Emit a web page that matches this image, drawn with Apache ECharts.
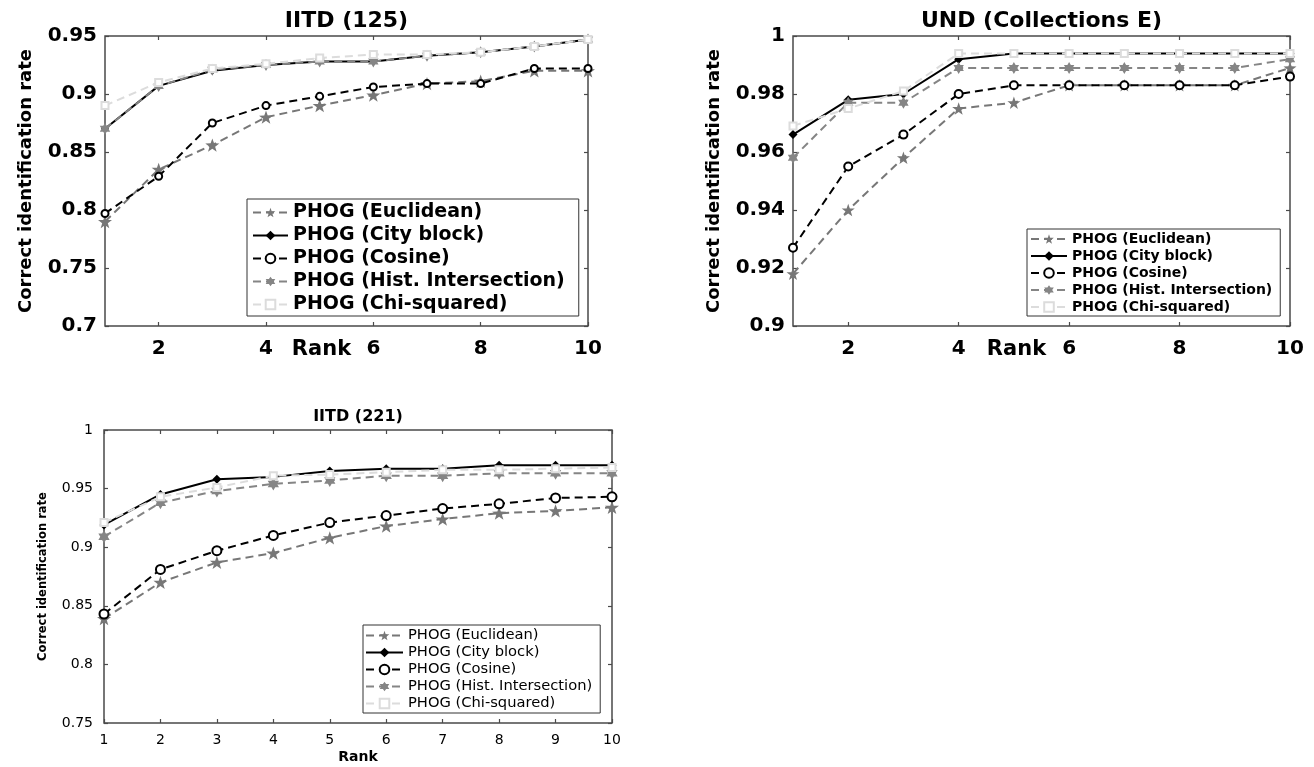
<!DOCTYPE html>
<html>
<head>
<meta charset="utf-8">
<script src="https://cdn.jsdelivr.net/npm/echarts@6/dist/echarts.min.js"></script>
<style>
html,body{margin:0;padding:0;background:#fff;}
#chart{width:1314px;height:767px;}
</style>
</head>
<body>
<div id="chart"></div>
<script>
// ---------- data ----------
const ranks = [1, 2, 3, 4, 5, 6, 7, 8, 9, 10];
const seriesNames = ['PHOG (Euclidean)', 'PHOG (City block)', 'PHOG (Cosine)', 'PHOG (Hist. Intersection)', 'PHOG (Chi-squared)'];
const chartTitles = ['IITD (125)', 'UND (Collections E)', 'IITD (221)'];
const xAxisName = 'Rank';
const yAxisName = 'Correct identification rate';
const topXTicks = [2, 4, 6, 8, 10];

// IITD (125)
const iitd125Euclidean = [0.790, 0.835, 0.856, 0.880, 0.890, 0.899, 0.909, 0.911, 0.920, 0.920];
const iitd125CityBlock = [0.870, 0.907, 0.920, 0.925, 0.928, 0.928, 0.933, 0.936, 0.941, 0.947];
const iitd125Cosine    = [0.797, 0.829, 0.875, 0.890, 0.898, 0.906, 0.909, 0.909, 0.922, 0.922];
const iitd125Hist      = [0.870, 0.907, 0.921, 0.925, 0.928, 0.928, 0.933, 0.936, 0.941, 0.947];
const iitd125Chi       = [0.890, 0.910, 0.922, 0.926, 0.931, 0.934, 0.934, 0.936, 0.941, 0.947];

// UND (Collections E)
const undEuclidean = [0.918, 0.940, 0.958, 0.975, 0.977, 0.983, 0.983, 0.983, 0.983, 0.989];
const undCityBlock = [0.966, 0.978, 0.980, 0.992, 0.994, 0.994, 0.994, 0.994, 0.994, 0.994];
const undCosine    = [0.927, 0.955, 0.966, 0.980, 0.983, 0.983, 0.983, 0.983, 0.983, 0.986];
const undHist      = [0.958, 0.977, 0.977, 0.989, 0.989, 0.989, 0.989, 0.989, 0.989, 0.992];
const undChi       = [0.969, 0.975, 0.981, 0.994, 0.994, 0.994, 0.994, 0.994, 0.994, 0.994];

// IITD (221)
const iitd221Euclidean = [0.839, 0.870, 0.887, 0.895, 0.908, 0.918, 0.924, 0.929, 0.931, 0.934];
const iitd221CityBlock = [0.919, 0.945, 0.958, 0.960, 0.965, 0.967, 0.967, 0.970, 0.970, 0.970];
const iitd221Cosine    = [0.843, 0.881, 0.897, 0.910, 0.921, 0.927, 0.933, 0.937, 0.942, 0.943];
const iitd221Hist      = [0.909, 0.938, 0.948, 0.954, 0.957, 0.961, 0.961, 0.963, 0.963, 0.963];
const iitd221Chi       = [0.921, 0.943, 0.951, 0.961, 0.962, 0.964, 0.966, 0.966, 0.967, 0.968];

// ---------- styling ----------
const STAR = 'path://M50,0L61.76,33.82L97.55,34.55L69.02,56.18L79.39,90.45L50,70L20.61,90.45L30.98,56.18L2.45,34.55L38.24,33.82Z';
const HEX = 'path://M50,0L64.43,25L93.3,25L78.87,50L93.3,75L64.43,75L50,100L35.57,75L6.7,75L21.13,50L6.7,25L35.57,25Z';
const FONT = 'DejaVu Sans';
const FRAME = '#4a4a4a';

const panels = [
  {
    grid: {left: 105, top: 36, width: 483, height: 290},
    y: {min: 0.7, max: 0.95, interval: 0.05},
    data: [iitd125Euclidean, iitd125CityBlock, iitd125Cosine, iitd125Hist, iitd125Chi],
    big: true,
    tickFont: 20, titleFont: 22, nameFont: 18, rankFont: 21,
    legend: {left: 247, top: 199, font: 19, lineHeight: 18, itemGap: 4, itemWidth: 35, padding: [4, 14, 2, 5]},
    sym: {star: 14, diamond: 8, circle: 7, hex: 12, rect: 7},
    lw: 2
  },
  {
    grid: {left: 793, top: 36, width: 497, height: 290},
    y: {min: 0.9, max: 1.0, interval: 0.02},
    data: [undEuclidean, undCityBlock, undCosine, undHist, undChi],
    big: true,
    tickFont: 20, titleFont: 22, nameFont: 18, rankFont: 21,
    legend: {left: 1027, top: 229, font: 14, lineHeight: 13, itemGap: 3, itemWidth: 36, padding: [3, 8, 2, 3]},
    sym: {star: 13, diamond: 9, circle: 8, hex: 12, rect: 7},
    lw: 2
  },
  {
    grid: {left: 104, top: 430, width: 508, height: 293},
    y: {min: 0.75, max: 1.0, interval: 0.05},
    data: [iitd221Euclidean, iitd221CityBlock, iitd221Cosine, iitd221Hist, iitd221Chi],
    big: false,
    tickFont: 14, titleFont: 16, nameFont: 11.5, rankFont: 14,
    legend: {left: 363, top: 625, font: 14.7, lineHeight: 14, itemGap: 2, itemWidth: 37, padding: [3, 8, 2, 2]},
    sym: {star: 14, diamond: 9, circle: 9, hex: 13, rect: 7},
    lw: 2
  }
];

const seriesStyles = [
  {color: '#777777', dash: [8, 5], symbol: STAR, symKey: 'star'},
  {color: '#000000', dash: 'solid', symbol: 'diamond', symKey: 'diamond'},
  {color: '#000000', dash: [8, 5], symbol: 'emptyCircle', symKey: 'circle'},
  {color: '#858585', dash: [8, 5], symbol: HEX, symKey: 'hex'},
  {color: '#dcdcdc', dash: [8, 5], symbol: 'emptyRect', symKey: 'rect'}
];

const grids = [], xAxes = [], yAxes = [], series = [], titles = [], legends = [];

panels.forEach((p, i) => {
  grids.push(Object.assign({show: true, borderColor: FRAME, borderWidth: 1.5, backgroundColor: 'transparent'}, p.grid));
  const cx = p.grid.left + p.grid.width / 2;
  const textBold = {fontFamily: FONT, fontWeight: 'bold', color: '#000'};
  const tickText = {fontFamily: FONT, fontWeight: p.big ? 'bold' : 'normal', color: '#000', fontSize: p.tickFont};

  titles.push({
    text: chartTitles[i], left: cx, top: p.big ? 10 : p.grid.top - 21, textAlign: 'center', padding: 0,
    textStyle: Object.assign({fontSize: p.titleFont}, textBold)
  });

  const xBottom = {
    type: 'value', gridIndex: i, min: 1, max: 10, position: 'bottom',
    name: xAxisName, nameLocation: 'middle', nameMoveOverlap: false,
    nameGap: p.big ? 13 : 27,
    nameTextStyle: Object.assign({fontSize: p.rankFont, padding: p.big ? [0, 50, 0, 0] : 0}, textBold),
    axisLine: {show: false},
    splitLine: {show: false},
    axisTick: {inside: true, length: 4, lineStyle: {color: FRAME, width: 1.2}},
    axisLabel: Object.assign({margin: p.big ? 13 : 10, showMinLabel: true, showMaxLabel: true}, tickText)
  };
  if (p.big) {
    xBottom.axisLabel.customValues = topXTicks;
    xBottom.axisTick.customValues = topXTicks;
  } else {
    xBottom.interval = 1;
  }
  xAxes.push(xBottom);

  yAxes.push({
    type: 'value', gridIndex: i, min: p.y.min, max: p.y.max, interval: p.y.interval, position: 'left',
    name: yAxisName, nameLocation: 'middle', nameRotate: 90, nameMoveOverlap: false,
    nameGap: p.big ? 70 : 55,
    nameTextStyle: Object.assign({fontSize: p.nameFont}, textBold),
    axisLine: {show: false},
    splitLine: {show: false},
    axisTick: {inside: true, length: 4, lineStyle: {color: FRAME, width: 1.2}},
    axisLabel: Object.assign({margin: p.big ? 8 : 11}, tickText)
  });

  legends.push({
    data: seriesNames, orient: 'vertical', left: p.legend.left, top: p.legend.top,
    itemGap: p.legend.itemGap, itemWidth: p.legend.itemWidth, itemHeight: 12,
    padding: p.legend.padding, borderColor: '#333', borderWidth: 1, backgroundColor: '#fff',
    selectedMode: false,
    textStyle: {fontFamily: FONT, fontWeight: p.big ? 'bold' : 'normal', fontSize: p.legend.font, lineHeight: p.legend.lineHeight, color: '#000'}
  });

  p.data.forEach((d, k) => {
    const st = seriesStyles[k];
    const isEmpty = st.symbol.indexOf('empty') === 0;
    series.push({
      name: seriesNames[k], type: 'line', xAxisIndex: i, yAxisIndex: i,
      data: ranks.map((r, j) => [r, d[j]]),
      symbol: st.symbol, symbolSize: p.sym[st.symKey], symbolKeepAspect: true, showAllSymbol: true,
      lineStyle: {color: st.color, width: p.lw, type: st.dash},
      itemStyle: {color: st.color, borderColor: st.color, borderWidth: isEmpty ? 1.8 : 0},
      emphasis: {disabled: true},
      z: 2 + k
    });
  });
});

// secondary axes (top / right) for MATLAB-style box ticks
panels.forEach((p, i) => {
  xAxes.push({
    type: 'value', gridIndex: i, min: 1, max: 10, position: 'top',
    interval: p.big ? undefined : 1,
    axisLine: {show: false}, splitLine: {show: false}, axisLabel: {show: false, customValues: p.big ? topXTicks : undefined},
    axisTick: {inside: true, length: 4, lineStyle: {color: FRAME, width: 1.2}, customValues: p.big ? topXTicks : undefined}
  });
  yAxes.push({
    type: 'value', gridIndex: i, min: p.y.min, max: p.y.max, interval: p.y.interval, position: 'right',
    axisLine: {show: false}, splitLine: {show: false}, axisLabel: {show: false},
    axisTick: {inside: true, length: 4, lineStyle: {color: FRAME, width: 1.2}}
  });
});

const chart = echarts.init(document.getElementById('chart'), null, {renderer: 'canvas'});
chart.setOption({
  animation: false,
  backgroundColor: '#fff',
  title: titles,
  legend: legends,
  grid: grids,
  xAxis: xAxes,
  yAxis: yAxes,
  series: series
});
</script>
</body>
</html>
